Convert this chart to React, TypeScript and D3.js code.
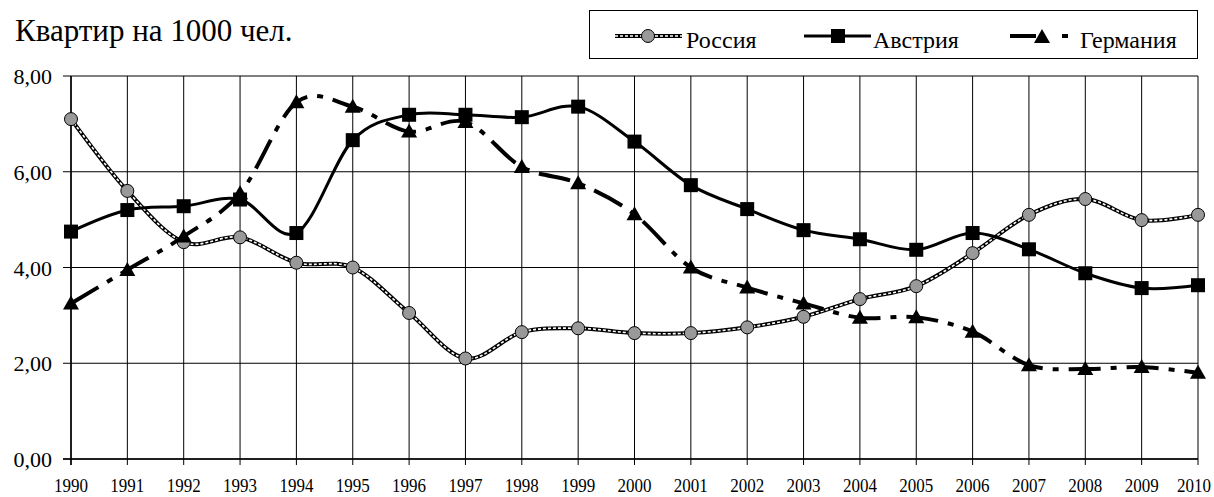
import * as d3 from 'd3';

const years = d3.range(1990, 2011);
const russia = [7.1, 5.6, 4.53, 4.63, 4.1, 4.0, 3.05, 2.1, 2.65, 2.73, 2.63, 2.63, 2.75, 2.97, 3.34, 3.61, 4.3, 5.1, 5.43, 4.99, 5.1];
const austria = [4.75, 5.2, 5.28, 5.42, 4.72, 6.66, 7.19, 7.19, 7.14, 7.36, 6.63, 5.72, 5.22, 4.78, 4.59, 4.37, 4.72, 4.38, 3.88, 3.57, 3.63];
const germany = [3.25, 3.95, 4.65, 5.55, 7.45, 7.36, 6.84, 7.04, 6.1, 5.76, 5.11, 4.0, 3.58, 3.25, 2.95, 2.96, 2.66, 1.96, 1.88, 1.92, 1.8];
const yTicks = [0, 2, 4, 6, 8];

const W = 1214;
const H = 497;
const serif = { fontFamily: "'Liberation Serif', 'Times New Roman', serif" };

export default function App() {
  const x = d3.scaleLinear().domain([1990, 2010]).range([71, 1198]);
  const y = d3.scaleLinear().domain([0, 8]).range([459, 76]);

  const line = d3.line<number>()
    .x((d, i) => x(years[i]))
    .y(d => y(d))
    .curve(d3.curveCardinal.tension(0));

  // triangle marker
  const tri = (cx: number, cy: number) => `M${cx},${cy - 8}L${cx + 8},${cy + 6}L${cx - 8},${cy + 6}Z`;

  return (
    <svg width={W} height={H} style={{ position: 'absolute', left: 0, top: 0, background: '#fff' }}>
      <text x={15} y={41} style={serif} fontSize={31}>Квартир на 1000 чел.</text>

      {/* grid */}
      {yTicks.map(t => (
        <g key={'y' + t}>
          <line x1={63} x2={1198} y1={y(t)} y2={y(t)} stroke="#000" strokeWidth={1} />
          <text x={52} y={y(t) + 8} textAnchor="end" style={serif} fontSize={22}>{t.toFixed(2).replace('.', ',')}</text>
        </g>
      ))}
      {years.map(yr => (
        <g key={'x' + yr}>
          <line x1={x(yr)} x2={x(yr)} y1={76} y2={465} stroke="#000" strokeWidth={1} />
          {/* last label nudged in so it stays on the page */}
          <text x={Math.min(x(yr), 1194)} y={492} textAnchor="middle" style={serif} fontSize={18} textLength={34} lengthAdjust="spacingAndGlyphs">{yr}</text>
        </g>
      ))}
      <line x1={71} x2={71} y1={76} y2={465} stroke="#000" strokeWidth={1.5} />
      <line x1={63} x2={1198} y1={459} y2={459} stroke="#000" strokeWidth={1.5} />

      {/* Russia */}
      <path d={line(russia) || ''} fill="none" stroke="#000" strokeWidth={4} />
      <path d={line(russia) || ''} fill="none" stroke="#fff" strokeWidth={1.6} strokeDasharray="3,2" />
      {/* Austria */}
      <path d={line(austria) || ''} fill="none" stroke="#000" strokeWidth={3} />
      {/* Germany */}
      <path d={line(germany) || ''} fill="none" stroke="#000" strokeWidth={4} strokeDasharray="32,10,6,10" />

      {russia.map((v, i) => (
        <circle key={'r' + i} cx={x(years[i])} cy={y(v)} r={6.5} fill="#999" stroke="#000" strokeWidth={1} />
      ))}
      {austria.map((v, i) => (
        <rect key={'a' + i} x={x(years[i]) - 7} y={y(v) - 7} width={14} height={14} fill="#000" />
      ))}
      {germany.map((v, i) => (
        <path key={'g' + i} d={tri(x(years[i]), y(v))} fill="#000" />
      ))}

      {/* legend */}
      <rect x={589.5} y={10.5} width={608} height={48} fill="#fff" stroke="#000" strokeWidth={1} />
      <line x1={615} x2={682} y1={36} y2={36} stroke="#000" strokeWidth={4} />
      <line x1={615} x2={682} y1={36} y2={36} stroke="#fff" strokeWidth={1.6} strokeDasharray="3,2" />
      <circle cx={648} cy={36} r={6.5} fill="#999" stroke="#000" strokeWidth={1} />
      <text x={686} y={48} style={serif} fontSize={24}>Россия</text>

      <line x1={804} x2={871} y1={36} y2={36} stroke="#000" strokeWidth={3} />
      <rect x={831} y={29} width={14} height={14} fill="#000" />
      <text x={873} y={48} style={serif} fontSize={24}>Австрия</text>

      <line x1={1010} x2={1036} y1={36} y2={36} stroke="#000" strokeWidth={4} />
      <line x1={1062} x2={1068} y1={36} y2={36} stroke="#000" strokeWidth={4} />
      <path d={tri(1042, 37)} fill="#000" />
      <text x={1080} y={48} style={serif} fontSize={24}>Германия</text>
    </svg>
  );
}
